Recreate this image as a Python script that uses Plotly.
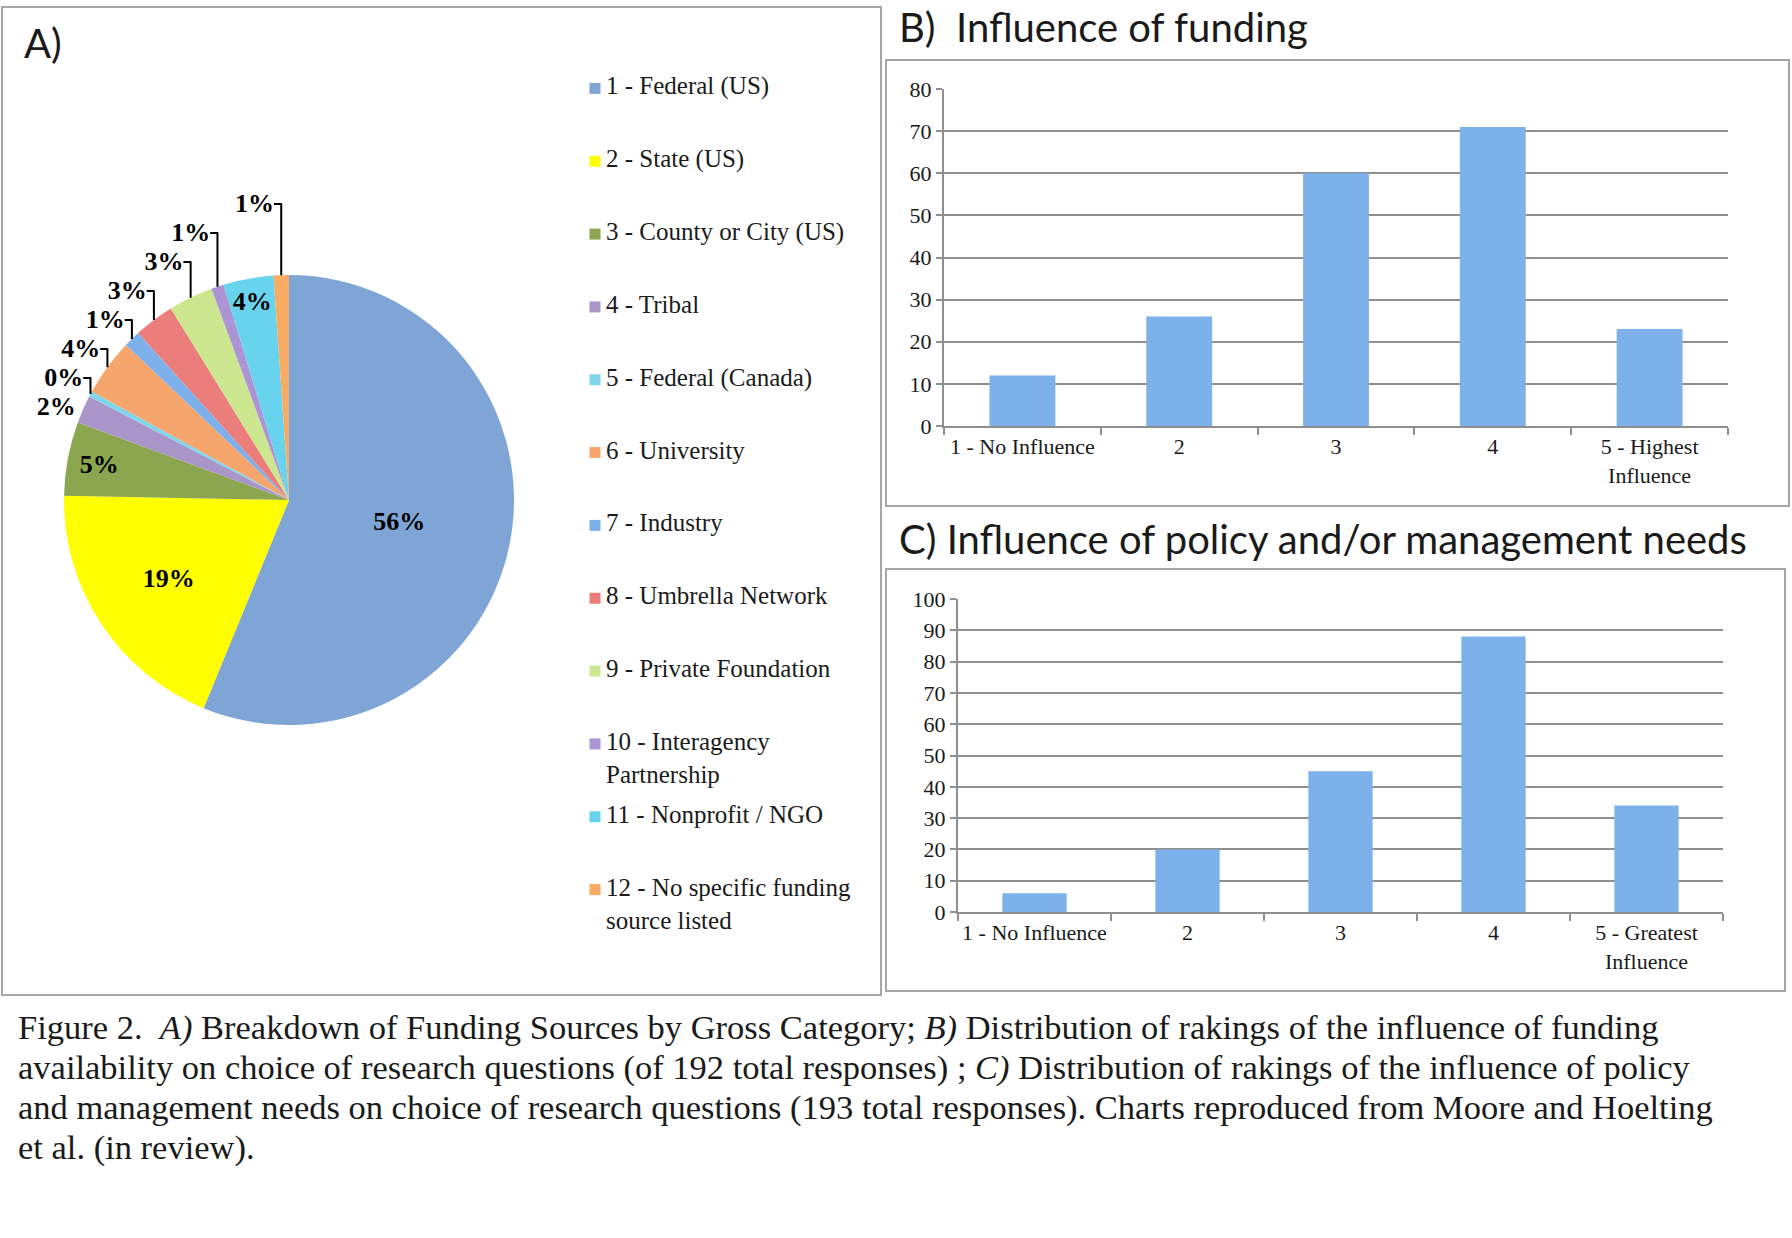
import plotly.graph_objects as go

W = 1792
# the page is rendered a little shorter than the window and centred in the shot
VIEW_H, TOP = 1213, 11

# A) funding sources (share of projects, %)
sources = ['1 - Federal (US)', '2 - State (US)', '3 - County or City (US)', '4 - Tribal',
           '5 - Federal (Canada)', '6 - University', '7 - Industry', '8 - Umbrella Network',
           '9 - Private Foundation', '10 - Interagency<br>Partnership', '11 - Nonprofit / NGO',
           '12 - No specific funding<br>source listed']
shares = [56.2, 19.1, 5.3, 2.0, 0.4, 4.1, 1.2, 2.9, 3.2, 0.9, 3.6, 1.1]

# B) influence of funding
rank_b = ['1 - No Influence', '2', '3', '4', '5 - Highest<br>Influence']
funding_counts = [12, 26, 60, 71, 23]

# C) influence of policy / management needs
rank_c = ['1 - No Influence', '2', '3', '4', '5 - Greatest<br>Influence']
policy_counts = [6, 20, 45, 88, 34]

caption_lines = [
    'Figure 2.\u00a0 <i>A)</i> Breakdown of Funding Sources by Gross Category; <i>B)</i> Distribution of rakings of the influence of funding',
    'availability on choice of research questions (of 192 total responses) ; <i>C)</i> Distribution of rakings of the influence of policy',
    'and management needs on choice of research questions (193 total responses). Charts reproduced from Moore and Hoelting',
    'et al. (in review).',
]

# styles
pie_colors = ['#7ea5d6', '#ffff00', '#8ba64f', '#a995c8', '#7fd6ea', '#f6a56c',
              '#7eb0ec', '#eb7d7b', '#cde690', '#ad94d4', '#68d3ec', '#f8ac63']
text_side = ['inside', 'inside', 'inside', 'outside', 'outside', 'outside',
             'outside', 'outside', 'outside', 'outside', 'inside', 'outside']
bar_color = '#7db1ec'
grid_col = '#8f8f8f'
ink = '#1a1a1a'
serif = 'Liberation Serif'
sans = 'Lato'


def px_x(v):
    return v / W


def px_y(v):
    return 1 - (v - TOP) / VIEW_H


fig = go.Figure()

fig.add_trace(go.Pie(
    labels=sources, values=shares, sort=False, direction='clockwise', rotation=0,
    marker=dict(colors=pie_colors, line=dict(width=0)),
    texttemplate='%{percent:.0%}', textposition=text_side,
    insidetextorientation='horizontal',
    textfont=dict(family=serif, size=26, color='black', weight='bold'),
    domain=dict(x=[px_x(64), px_x(514)], y=[px_y(724), px_y(274)]),
    showlegend=False, hoverinfo='label+percent'
))

# legend drawn on its own hidden axes
fig.add_trace(go.Scatter(
    x=[0] * len(sources), y=list(range(len(sources))), mode='markers',
    marker=dict(symbol='square', size=11, color=pie_colors),
    xaxis='x3', yaxis='y3', showlegend=False, hoverinfo='skip', cliponaxis=False
))
annos = []
for i, name in enumerate(sources):
    annos.append(dict(x=0, y=i, xref='x3', yref='y3', text=name, showarrow=False,
                      xanchor='left', yanchor='top', align='left', xshift=9, yshift=18,
                      font=dict(family=serif, size=25, color=ink)))

fig.add_trace(go.Bar(x=rank_b, y=funding_counts, marker=dict(color=bar_color, line=dict(width=0)),
                     xaxis='x', yaxis='y', showlegend=False))
fig.add_trace(go.Bar(x=rank_c, y=policy_counts, marker=dict(color=bar_color, line=dict(width=0)),
                     xaxis='x2', yaxis='y2', showlegend=False))

xcommon = dict(ticks='outside', tickson='boundaries', ticklen=7, tickwidth=2, tickcolor=grid_col,
               showline=True, linecolor=grid_col, linewidth=2, showgrid=False, tickangle=0,
               tickfont=dict(family=serif, size=22, color=ink))
ycommon = dict(dtick=10, ticks='outside', ticklen=6, tickwidth=2, tickcolor=grid_col,
               showline=True, linecolor=grid_col, linewidth=2, showgrid=True,
               gridcolor=grid_col, gridwidth=2, zeroline=False,
               tickfont=dict(family=serif, size=22, color=ink))

annos += [
    dict(x=px_x(22), y=px_y(42), xref='paper', yref='paper', text='A)', showarrow=False,
         xanchor='left', yanchor='middle', font=dict(family=sans, size=40, color=ink)),
    dict(x=px_x(897), y=px_y(26), xref='paper', yref='paper', text='B)\u00a0 Influence of funding',
         showarrow=False, xanchor='left', yanchor='middle', font=dict(family=sans, size=40, color=ink)),
    dict(x=px_x(897), y=px_y(538), xref='paper', yref='paper',
         text='C)\u00a0Influence of policy and/or management needs',
         showarrow=False, xanchor='left', yanchor='middle', font=dict(family=sans, size=40, color=ink)),
]
for k, line in enumerate(caption_lines):
    annos.append(dict(x=px_x(16), y=px_y(1026 + 40 * k), xref='paper', yref='paper', text=line,
                      showarrow=False, xanchor='left', yanchor='middle', align='left',
                      font=dict(family=serif, size=34.5, color=ink)))

box = dict(type='rect', xref='paper', yref='paper', line=dict(color='#a6a6a6', width=2), layer='below')
shapes = [
    dict(box, x0=px_x(2), x1=px_x(881), y0=px_y(994), y1=px_y(6)),
    dict(box, x0=px_x(886), x1=px_x(1789), y0=px_y(505), y1=px_y(59)),
    dict(box, x0=px_x(886), x1=px_x(1785), y0=px_y(990), y1=px_y(568)),
]

fig.update_layout(
    margin=dict(l=0, r=0, t=0, b=0),
    paper_bgcolor='white', plot_bgcolor='white', bargap=0.58,
    uniformtext=dict(minsize=26, mode='show'),
    xaxis=dict(xcommon, domain=[px_x(944), px_x(1728)], anchor='y'),
    yaxis=dict(ycommon, domain=[px_y(425), px_y(88)], range=[0, 80], anchor='x'),
    xaxis2=dict(xcommon, domain=[px_x(958), px_x(1723)], anchor='y2'),
    yaxis2=dict(ycommon, domain=[px_y(911), px_y(598)], range=[0, 100], anchor='x2'),
    xaxis3=dict(domain=[px_x(595), px_x(880)], range=[0, 1], visible=False, anchor='y3'),
    yaxis3=dict(domain=[px_y(925), px_y(51)], range=[11.5, -0.5], visible=False, anchor='x3'),
    annotations=annos, shapes=shapes,
)

fig.write_html('out.html', default_width='100vw', default_height='100vh',
               config=dict(displayModeBar=False),
               post_script="document.body.style.margin='0';document.body.style.overflow='hidden';")
